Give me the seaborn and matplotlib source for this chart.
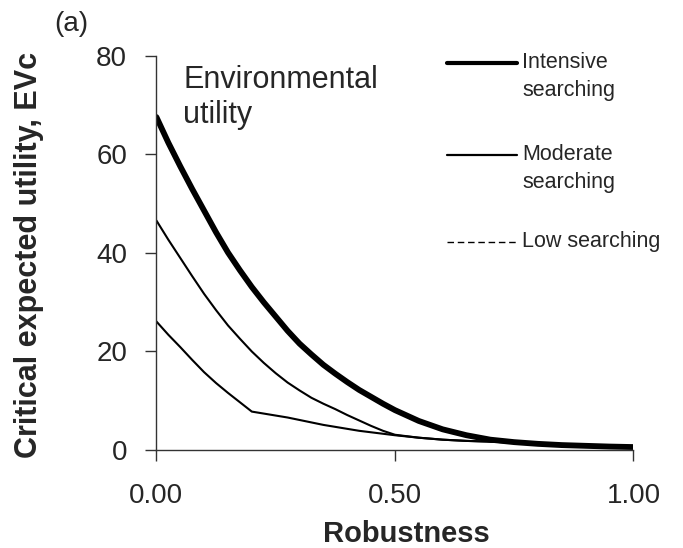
import matplotlib
matplotlib.use("Agg")
from matplotlib import pyplot as plt
import seaborn as sns

# values
robustness = [0.000, 0.025, 0.050, 0.075, 0.100, 0.125, 0.150, 0.175, 0.200, 0.225,
              0.250, 0.275, 0.300, 0.325, 0.350, 0.375, 0.400, 0.425, 0.450, 0.475,
              0.500, 0.550, 0.600, 0.650, 0.700, 0.750, 0.800, 0.850, 0.900, 0.950,
              1.000]
intensive = [67.5, 62.3, 57.5, 52.9, 48.5, 44.1, 40.0, 36.4, 33.0, 29.9,
             27.0, 24.1, 21.5, 19.3, 17.2, 15.4, 13.7, 12.1, 10.7, 9.3,
             8.0, 5.8, 4.1, 2.9, 2.0, 1.5, 1.15, 0.9, 0.75, 0.6,
             0.5]
moderate = [46.5, 42.6, 38.9, 35.2, 31.6, 28.3, 25.2, 22.5, 19.9, 17.6,
            15.5, 13.6, 12.0, 10.5, 9.3, 8.2, 7.0, 5.9, 4.8, 3.8,
            3.0, 2.4, 2.0, 1.75, 1.6, 1.4, 1.15, 0.9, 0.75, 0.6,
            0.5]
low = [26.0, 23.3, 20.8, 18.2, 15.7, 13.5, 11.5, 9.6, 7.7, 7.3,
       6.9, 6.5, 6.0, 5.5, 5.0, 4.6, 4.2, 3.8, 3.5, 3.2,
       2.9, 2.4, 2.0, 1.75, 1.6, 1.4, 1.15, 0.9, 0.75, 0.6,
       0.5]

legend_labels = ["Intensive\nsearching", "Moderate\nsearching", "Low searching"]
legend_styles = ["-", "-", (0, (4.7, 2.7))]
legend_widths = [3.0, 1.6, 1.0]

sns.set_style("ticks")
plt.rcParams['font.family'] = ['Liberation Sans', 'DejaVu Sans']

fig = plt.figure(figsize=(6.83, 5.48), dpi=100)
ax = fig.add_axes([0.229, 0.1797, 0.6985, 0.719])

# the three curves
sns.lineplot(x=robustness, y=intensive, ax=ax, color="black", linewidth=4.2)
sns.lineplot(x=robustness, y=moderate, ax=ax, color="black", linewidth=1.5)
sns.lineplot(x=robustness, y=low, ax=ax, color="black", linewidth=1.5)

ax.set_xlim(0, 1)
ax.set_ylim(0, 80)
ax.set_xticks([0, 0.5, 1.0])
ax.set_xticklabels(["0.00", "0.50", "1.00"])
ax.set_yticks([0, 20, 40, 60, 80])
ax.tick_params(axis="x", length=8, width=1, pad=16, labelsize=20, color="#333333")
ax.tick_params(axis="y", length=8, width=1, pad=13, labelsize=20, color="#333333")
for side in ["top", "right"]:
    ax.spines[side].set_visible(False)
for side in ["left", "bottom"]:
    ax.spines[side].set_color("#333333")
    ax.spines[side].set_linewidth(1)

ax.set_xlabel("Robustness", fontsize=21, fontweight="bold")
ax.set_ylabel("Critical expected utility, EVc", fontsize=22, fontweight="bold")
ax.xaxis.set_label_coords(0.525, -0.178)
ax.yaxis.set_label_coords(-0.236, 0.494)

ax.text(0.056, 0.977, "Environmental\nutility", transform=ax.transAxes,
        fontsize=22, va="top", ha="left", linespacing=1.25)

# hand-made legend, line level with the first text line
leg_y = [0.981, 0.747, 0.527]
for y, lab, ls, lw in zip(leg_y, legend_labels, legend_styles, legend_widths):
    ax.plot([0.609, 0.756], [y, y], transform=ax.transAxes, color="black",
            linestyle=ls, linewidth=lw, clip_on=False)
    ax.text(0.767, y + 0.028, lab, transform=ax.transAxes, fontsize=15.5,
            va="top", ha="left", linespacing=1.45)

fig.text(0.08, 0.98, "(a)", fontsize=20, va="top", ha="left")

fig.savefig("out.png", dpi=100)
